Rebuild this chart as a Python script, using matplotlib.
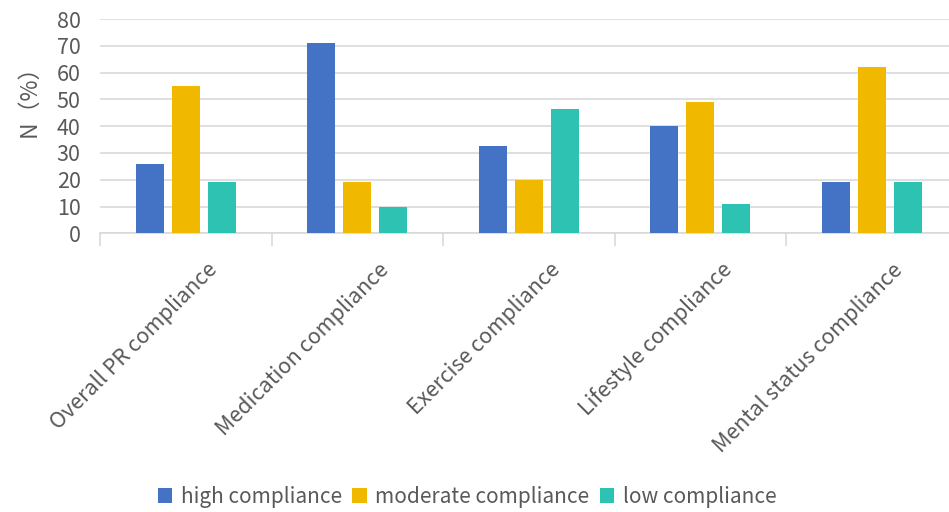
import matplotlib
matplotlib.use("Agg")
import matplotlib.pyplot as plt
import matplotlib.transforms as mtransforms
import numpy as np

categories = ["Overall PR compliance", "Medication compliance", "Exercise compliance",
              "Lifestyle compliance", "Mental status compliance"]
series_names = ["high compliance", "moderate compliance", "low compliance"]
high = [26, 71, 32.5, 40, 19]
moderate = [55, 19, 20, 49, 62]
low = [19, 10, 46.5, 11, 19]
yticks = [0, 10, 20, 30, 40, 50, 60, 70, 80]

colors = ["#4472C4", "#F1B800", "#2DC2B1"]
text_color = "#595959"
plt.rcParams['font.family'] = ['Noto Sans CJK SC', 'DejaVu Sans']

fig = plt.figure(figsize=(9.49, 5.12), dpi=100)
W, H = 949, 512
left, right, top, bottom = 100, 957.5, 19, 233.3
ax = fig.add_axes([left / W, 1 - bottom / H, (right - left) / W, (bottom - top) / H])

x = np.arange(len(categories))
bw = 0.165
step = 0.21
for i, (vals, name) in enumerate(zip([high, moderate, low], series_names)):
    ax.bar(x + (i - 1) * step, vals, width=bw, color=colors[i], label=name, zorder=3)

ax.set_xlim(-0.5, len(categories) - 0.5)
ax.set_ylim(0, 80)
ax.set_yticks(yticks)
ax.set_yticklabels([str(t) for t in yticks], fontsize=15.5, color=text_color)
ax.tick_params(axis='y', length=0, pad=14)
ax.yaxis.grid(True, color="#D9D9D9", linewidth=1.2, zorder=0)
for s in ["top", "right", "left"]:
    ax.spines[s].set_visible(False)
ax.spines["bottom"].set_color("#D9D9D9")
ax.spines["bottom"].set_linewidth(1.2)

# boundary ticks
ax.set_xticks(np.arange(-0.5, len(categories) + 0.5, 1.0))
ax.set_xticklabels([])
ax.tick_params(axis='x', length=9, color="#D9D9D9", width=1.2)
ax.set_xticks(x, minor=True)
ax.set_xticklabels(categories, minor=True, rotation=45, rotation_mode='anchor',
                   ha='right', va='center', fontsize=15.5, color=text_color)
ax.tick_params(axis='x', which='minor', length=0, pad=24)
offset = mtransforms.ScaledTranslation(28 / 100, 0, fig.dpi_scale_trans)
for lbl in ax.get_xticklabels(minor=True):
    lbl.set_transform(lbl.get_transform() + offset)

ax.set_ylabel("N（%）", fontsize=16.5, color=text_color)
ax.yaxis.set_label_coords(-0.07, 0.645)

leg = fig.legend(loc='center', bbox_to_anchor=(467 / W, 1 - 497 / H), ncol=3, frameon=False,
                 fontsize=15, handlelength=0.7, handleheight=0.7, handletextpad=0.4,
                 columnspacing=0.5)
for t in leg.get_texts():
    t.set_color(text_color)

fig.savefig("out.png", dpi=100)
